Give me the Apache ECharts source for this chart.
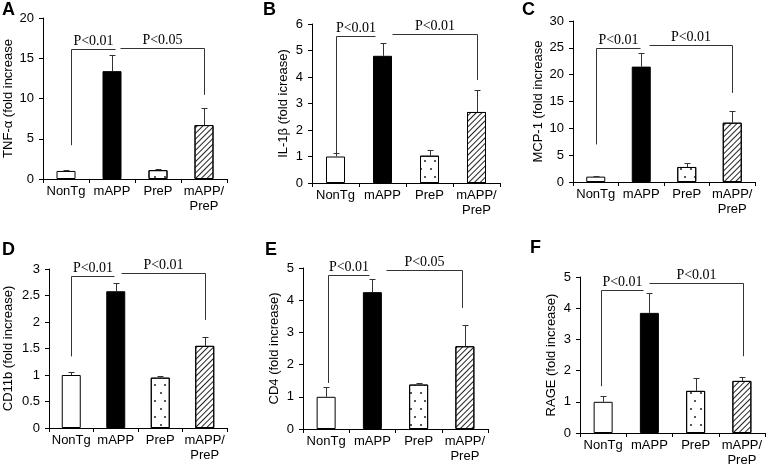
<!DOCTYPE html>
<html><head><meta charset="utf-8">
<script src="https://cdn.jsdelivr.net/npm/echarts@6/dist/echarts.min.js"></script>
<style>html,body{margin:0;padding:0;background:#fff}#c{width:766px;height:469px}</style>
</head><body><div id="c"></div>
<script>
// ---------- data ----------
const categories = ['NonTg', 'mAPP', 'PreP', 'mAPP/\nPreP'];
const panelLetters = ['A', 'B', 'C', 'D', 'E', 'F'];
const yTitles = ['TNF-α (fold increase', 'IL-1β (fold icrease)', 'MCP-1 (fold increase', 'CD11b (fold increase)', 'CD4 (fold increase)', 'RAGE (fold increase)'];
const yMax = [20, 6, 30, 3, 5, 5];
const yStep = [5, 1, 5, 0.5, 1, 1];

const tnfMean = [1.0, 13.4, 1.1, 6.7];
const tnfErr = [1.1, 15.4, 1.3, 8.8];
const il1Mean = [1.0, 4.8, 1.03, 2.68];
const il1Err = [1.14, 5.3, 1.24, 3.5];
const mcpMean = [1.0, 21.5, 2.8, 11.05];
const mcpErr = [1.15, 24.0, 3.5, 13.2];
const cd11Mean = [1.0, 2.58, 0.95, 1.55];
const cd11Err = [1.05, 2.74, 0.98, 1.71];
const cd4Mean = [1.0, 4.25, 1.38, 2.57];
const cd4Err = [1.3, 4.65, 1.43, 3.24];
const rageMean = [1.0, 3.85, 1.35, 1.67];
const rageErr = [1.18, 4.48, 1.75, 1.78];

// brackets: [fromCategory, toCategory, top value, left drop to, right drop to, label]
const tnfBrackets = [[0.1, 1.06, 16.1, 4.2, null, 'P<0.01'], [1.17, 3.0, 16.3, null, 10.45, 'P<0.05']];
const il1Brackets = [[0, 0.85, 5.55, 1.1, null, 'P<0.01'], [1.2, 3.0, 5.62, null, 3.89, 'P<0.01']];
const mcpBrackets = [[0, 0.97, 24.9, 7.0, null, 'P<0.01'], [1.17, 3.0, 25.5, null, 16.6, 'P<0.01']];
const cd11Brackets = [[0, 0.97, 2.86, 1.35, null, 'P<0.01'], [1.12, 3.0, 2.93, null, 2.04, 'P<0.01']];
const cd4Brackets = [[0.03, 0.93, 4.79, 1.43, null, 'P<0.01'], [1.3, 2.94, 4.95, null, 3.76, 'P<0.05']];
const rageBrackets = [[-0.05, 0.87, 4.59, 1.5, null, 'P<0.01'], [1.0, 3.03, 4.81, null, 2.46, 'P<0.01']];

const means = [tnfMean, il1Mean, mcpMean, cd11Mean, cd4Mean, rageMean];
const errs = [tnfErr, il1Err, mcpErr, cd11Err, cd4Err, rageErr];
const brackets = [tnfBrackets, il1Brackets, mcpBrackets, cd11Brackets, cd4Brackets, rageBrackets];

// ---------- layout ----------
const grids = [
  {left: 43, top: 18, width: 184, height: 161},
  {left: 312, top: 24, width: 188, height: 159},
  {left: 573, top: 21, width: 182, height: 161},
  {left: 49, top: 269, width: 178, height: 159},
  {left: 303, top: 268, width: 185, height: 161},
  {left: 580, top: 277, width: 185, height: 156}
];
const nameGaps = [28, 22, 28, 34, 22, 22];
const letterPos = [[2, 1], [263, 1], [522, 1], [2, 241], [265, 241], [530, 239]];

const SANS = '"Liberation Sans", Arial, sans-serif';
const SERIF = '"Liberation Serif", "Times New Roman", serif';
const LINE = '#333';

const barStyles = [
  {color: '#fff', borderColor: '#000', borderWidth: 1},
  {color: '#000', borderColor: '#000', borderWidth: 1},
  {color: '#fff', borderColor: '#000', borderWidth: 1,
   decal: {symbol: 'circle', symbolSize: 1, color: '#222', dashArrayX: [[1.4, 8], [0, 4, 1.4, 4]], dashArrayY: [1.4, 6], rotation: 0}},
  {color: '#fff', borderColor: '#000', borderWidth: 1,
   decal: {symbol: 'rect', symbolSize: 1, color: '#222', dashArrayX: [1, 0], dashArrayY: [1, 3], rotation: -Math.PI / 4}}
];

function px(v) { return Math.round(v) + 0.5; }

function errRender(params, api) {
  const base = api.coord([api.value(0), api.value(1)]);
  const top = api.coord([api.value(0), api.value(2)]);
  const x = px(base[0]);
  const yt = px(top[1]);
  return {type: 'group', children: [
    {type: 'line', shape: {x1: x, y1: base[1], x2: x, y2: yt}, style: {stroke: LINE, lineWidth: 1}},
    {type: 'line', shape: {x1: x - 3, y1: yt, x2: x + 3, y2: yt}, style: {stroke: LINE, lineWidth: 1}}
  ]};
}

function bracketRender(list) {
  return function (params, api) {
    const b = list[params.dataIndex];
    const bw = api.size([1, 0])[0];
    const p0 = api.coord([0, b[2]]);
    const xa = px(p0[0] + b[0] * bw), xb = px(p0[0] + b[1] * bw), y = px(p0[1]);
    const children = [
      {type: 'line', shape: {x1: xa, y1: y, x2: xb, y2: y}, style: {stroke: LINE, lineWidth: 1}}
    ];
    if (b[3] != null) {
      const yl = api.coord([0, b[3]])[1];
      children.push({type: 'line', shape: {x1: xa, y1: y, x2: xa, y2: yl}, style: {stroke: LINE, lineWidth: 1}});
    }
    if (b[4] != null) {
      const yr = api.coord([0, b[4]])[1];
      children.push({type: 'line', shape: {x1: xb, y1: y, x2: xb, y2: yr}, style: {stroke: LINE, lineWidth: 1}});
    }
    children.push({type: 'text', style: {text: b[5], x: (xa + xb) / 2, y: y - 1, align: 'center', verticalAlign: 'bottom', font: '14px ' + SERIF, fill: '#000'}});
    return {type: 'group', children: children};
  };
}

const option = {
  animation: false,
  backgroundColor: '#fff',
  title: panelLetters.map((t, i) => ({text: t, left: letterPos[i][0], top: letterPos[i][1], padding: 0,
    textStyle: {fontSize: 18, fontWeight: 'bold', fontFamily: SANS, color: '#000'}})),
  grid: grids,
  xAxis: grids.map((g, i) => ({
    type: 'category', gridIndex: i, data: categories,
    axisLine: {lineStyle: {color: '#000', width: 1}},
    axisTick: {show: true, length: 4, lineStyle: {color: '#000'}},
    axisLabel: {color: '#000', fontSize: 13, fontFamily: SANS, margin: 5, lineHeight: 15, interval: 0}
  })),
  yAxis: grids.map((g, i) => ({
    type: 'value', gridIndex: i, min: 0, max: yMax[i], interval: yStep[i],
    name: yTitles[i], nameLocation: 'middle', nameGap: nameGaps[i], nameRotate: 90,
    nameTextStyle: {color: '#000', fontSize: 13, fontFamily: SANS},
    axisLine: {show: true, lineStyle: {color: '#000', width: 1}},
    axisTick: {show: true, length: 4, lineStyle: {color: '#000'}},
    axisLabel: {color: '#000', fontSize: 13, fontFamily: SANS, margin: 9},
    splitLine: {show: false}
  })),
  series: []
};

for (let i = 0; i < 6; i++) {
  option.series.push({
    type: 'bar', xAxisIndex: i, yAxisIndex: i, barWidth: 19, silent: true,
    data: means[i].map((v, j) => ({value: v, itemStyle: barStyles[j]}))
  });
  option.series.push({
    type: 'custom', xAxisIndex: i, yAxisIndex: i, silent: true, z: 3,
    data: means[i].map((v, j) => [j, v, errs[i][j]]),
    renderItem: errRender
  });
  option.series.push({
    type: 'custom', xAxisIndex: i, yAxisIndex: i, silent: true, z: 4,
    data: brackets[i].map(b => [0, b[2]]),
    renderItem: bracketRender(brackets[i])
  });
}

const chart = echarts.init(document.getElementById('c'), null, {renderer: 'canvas'});
chart.setOption(option);
</script>
</body></html>
